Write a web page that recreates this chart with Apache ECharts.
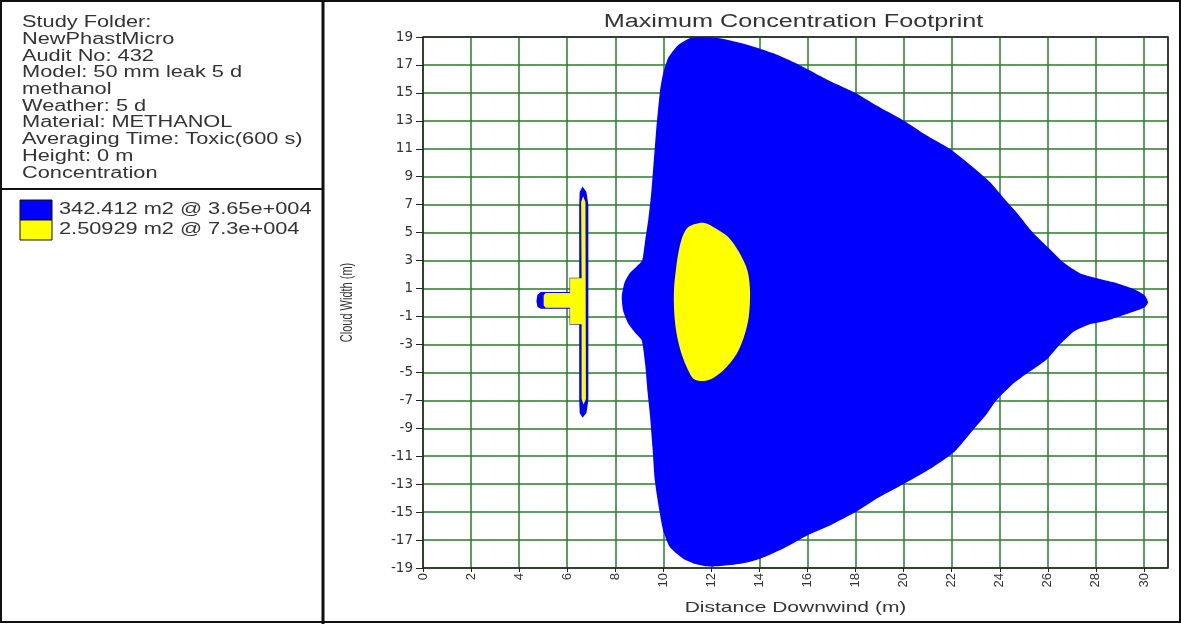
<!DOCTYPE html>
<html>
<head>
<meta charset="utf-8">
<script src="https://cdn.jsdelivr.net/npm/echarts@6/dist/echarts.min.js"></script>
<style>
  html, body { margin: 0; padding: 0; background: #ffffff; }
  #chart { width: 1181px; height: 624px; }
</style>
</head>
<body>
<div id="chart"></div>
<script>
// ---- Study header shown in the side panel ----
const studyInfo = [
  'Study Folder:',
  'NewPhastMicro',
  'Audit No: 432',
  'Model: 50 mm leak 5 d',
  'methanol',
  'Weather: 5 d',
  'Material: METHANOL',
  'Averaging Time: Toxic(600 s)',
  'Height: 0 m',
  'Concentration'
];

// ---- Contour levels (area @ concentration) ----
const contourNames = ['342.412 m2 @ 3.65e+004', '2.50929 m2 @ 7.3e+004'];
const contourColors = ['#0000ff', '#ffff00'];

// ---- Axis ranges (m) ----
const distanceRange = [0, 31];
const widthRange = [-19, 19];
const tickStep = 2;

// ---- Footprint outlines: [distance downwind, cloud width] in m ----
// lower concentration level, main cloud
const lowMainCloud = [
  [11.7, 19.0], [11.15, 18.95], [10.6, 18.4], [10.2, 17.5], [9.98, 16.3], [9.86, 15.1],
  [9.72, 12.7], [9.61, 10.3], [9.5, 7.9], [9.38, 6.0], [9.25, 4.5], [9.12, 3.0],
  [8.9, 2.6], [8.6, 2.1], [8.38, 1.4], [8.27, 0.4], [8.33, -0.6], [8.54, -1.5],
  [8.85, -2.2], [9.1, -2.7], [9.25, -4.5], [9.35, -6.5], [9.44, -8.0], [9.55, -10.4],
  [9.65, -12.8], [9.86, -15.15], [10.0, -16.35], [10.27, -17.5], [10.8, -18.3], [11.3, -18.7],
  [11.8, -18.88], [12.4, -18.85], [13.2, -18.7], [14.0, -18.35], [15.0, -17.6], [16.0, -16.65],
  [17.0, -15.9], [18.0, -15.0], [18.9, -14.0], [19.98, -13.0], [21.2, -11.8], [22.1, -10.7],
  [22.9, -9.1], [23.45, -8.0], [23.86, -7.0], [24.5, -5.9], [25.2, -5.0], [25.94, -4.1],
  [26.5, -3.0], [27.1, -2.05], [27.75, -1.55], [28.44, -1.3], [29.4, -0.75], [30.0, -0.38],
  [30.17, 0.0], [30.03, 0.5], [29.55, 0.98], [28.7, 1.46], [27.88, 1.81], [27.33, 2.1],
  [26.7, 2.8], [26.0, 3.96], [25.3, 5.16], [24.77, 6.3], [24.2, 7.4], [23.6, 8.6],
  [22.8, 9.8], [21.92, 11.0], [20.95, 11.97], [19.98, 13.05], [18.87, 14.1], [18.04, 14.96],
  [16.93, 15.85], [15.6, 17.05], [14.56, 17.85], [13.6, 18.4], [12.4, 18.9]
];
// lower concentration level, near-source jet
const lowSource = [
  [6.64, 8.3], [6.8, 7.9], [6.88, 7.0], [6.88, -7.0], [6.8, -7.9], [6.64, -8.25],
  [6.52, -7.9], [6.5, -7.0], [6.5, -1.6], [6.1, -1.6], [6.1, -0.45], [4.9, -0.45],
  [4.76, -0.3], [4.72, 0.1], [4.76, 0.55], [4.9, 0.75], [6.1, 0.75], [6.1, 1.78],
  [6.5, 1.78], [6.5, 7.0], [6.52, 7.9]
];
// higher concentration level, main cloud core
const highCore = [
  [11.55, 5.7], [11.04, 5.4], [10.79, 4.68], [10.62, 3.49], [10.52, 2.29], [10.45, 1.1],
  [10.44, -0.1], [10.48, -1.29], [10.58, -2.49], [10.76, -3.68], [11.04, -4.87], [11.25, -5.45],
  [11.6, -5.62], [12.0, -5.47], [12.49, -4.87], [13.05, -3.68], [13.35, -2.49], [13.53, -1.29],
  [13.6, -0.1], [13.6, 1.1], [13.5, 2.29], [13.19, 3.49], [12.7, 4.68], [12.08, 5.4], [11.8, 5.65]
];
// higher concentration level, near-source jet
const highSource = [
  [6.66, 7.6], [6.76, 7.2], [6.78, -6.9], [6.68, -7.3], [6.6, -6.9], [6.6, -1.55],
  [6.12, -1.55], [6.12, -0.38], [5.1, -0.38], [5.02, -0.2], [5.02, 0.5], [5.1, 0.68],
  [6.12, 0.68], [6.12, 1.74], [6.6, 1.74], [6.58, 7.2]
];

// ---- Layout ----
const W = 1181, H = 624;
const gridBox = { left: 423, top: 37, right: 13, bottom: 56 };
const plotW = W - gridBox.left - gridBox.right;
const plotH = H - gridBox.top - gridBox.bottom;
const panelX = 323;          // side panel divider
const headerBottom = 189;    // header / legend divider
const textFont = 'Liberation Sans, Arial, sans-serif';
const stretch = 1.36;        // wide lettering of the report

// Filled contour drawn as one polygon through the cartesian scales
function contourSeries(name, points, color, smooth) {
  return {
    type: 'custom',
    name: name,
    coordinateSystem: 'cartesian2d',
    data: points,
    encode: { x: 0, y: 1 },
    silent: true,
    clip: true,
    renderItem: function (params, api) {
      if (params.dataIndex !== 0) return null;
      return {
        type: 'polygon',
        shape: { points: points.map(function (p) { return api.coord(p); }), smooth: smooth },
        style: { fill: color, stroke: null }
      };
    }
  };
}

const gridGreen = '#2b7b2b';
const inkColor = '#333333';

const graphics = [
  // outer frame and panel dividers
  { type: 'rect', z: 20, shape: { x: 1, y: 1, width: W - 2, height: H - 3 },
    style: { fill: null, stroke: '#111', lineWidth: 2 } },
  { type: 'line', z: 20, shape: { x1: panelX, y1: 0, x2: panelX, y2: H },
    style: { stroke: '#111', lineWidth: 3 } },
  { type: 'line', z: 20, shape: { x1: 0, y1: headerBottom, x2: panelX, y2: headerBottom },
    style: { stroke: '#111', lineWidth: 2 } },
  // plot frame
  { type: 'rect', z: 20, shape: { x: gridBox.left, y: gridBox.top, width: plotW, height: plotH },
    style: { fill: null, stroke: '#222', lineWidth: 1.5 } },
  // study header
  { type: 'text', z: 20, x: 22, y: 14.5, scaleX: stretch,
    style: { text: studyInfo.join('\n'), fill: inkColor, fontSize: 16, fontFamily: textFont,
             lineHeight: 16.7, align: 'left', verticalAlign: 'top' } },
  // title
  { type: 'text', z: 20, x: gridBox.left + plotW / 2 - 2, y: 22, scaleX: 1.4,
    style: { text: 'Maximum Concentration Footprint', fill: inkColor, fontSize: 18,
             fontFamily: textFont, align: 'center', verticalAlign: 'middle' } },
  // axis names
  { type: 'text', z: 20, x: gridBox.left + plotW / 2, y: 608, scaleX: 1.4,
    style: { text: 'Distance Downwind (m)', fill: inkColor, fontSize: 15,
             fontFamily: textFont, align: 'center', verticalAlign: 'middle' } },
  { type: 'text', z: 20, x: 347, y: gridBox.top + plotH / 2, rotation: Math.PI / 2, scaleY: 1.5,
    style: { text: 'Cloud Width (m)', fill: inkColor, fontSize: 11,
             fontFamily: textFont, align: 'center', verticalAlign: 'middle' } }
];

// legend swatches and labels
contourNames.forEach(function (name, i) {
  const top = 200 + i * 20;
  graphics.push({ type: 'rect', z: 20, shape: { x: 20, y: top, width: 32, height: 20 },
    style: { fill: contourColors[i], stroke: '#111', lineWidth: 1 } });
  graphics.push({ type: 'text', z: 20, x: 59, y: top + 10, scaleX: stretch,
    style: { text: name, fill: inkColor, fontSize: 16, fontFamily: textFont,
             align: 'left', verticalAlign: 'middle' } });
});

const chart = echarts.init(document.getElementById('chart'), null, { renderer: 'canvas', width: W, height: H });

chart.setOption({
  animation: false,
  backgroundColor: '#ffffff',
  grid: { left: gridBox.left, top: gridBox.top, right: gridBox.right, bottom: gridBox.bottom, containLabel: false },
  xAxis: {
    type: 'value',
    min: distanceRange[0], max: distanceRange[1], interval: tickStep,
    axisLine: { show: false, onZero: false },
    axisTick: { show: true, length: 4, lineStyle: { color: '#222' } },
    axisLabel: { rotate: 90, margin: 5, showMaxLabel: false, color: inkColor,
                 fontFamily: 'Liberation Sans', fontSize: 13 },
    splitLine: { show: true, lineStyle: { color: gridGreen, width: 1.5 } }
  },
  yAxis: {
    type: 'value',
    min: widthRange[0], max: widthRange[1], interval: tickStep,
    axisLine: { show: false, onZero: false },
    axisTick: { show: true, length: 7, lineStyle: { color: '#222' } },
    axisLabel: { margin: 10, color: inkColor, fontFamily: 'DejaVu Sans', fontSize: 13.5 },
    splitLine: { show: true, lineStyle: { color: gridGreen, width: 1.5 } }
  },
  series: [
    contourSeries(contourNames[0], lowMainCloud, contourColors[0], 0.2),
    contourSeries(contourNames[0], lowSource, contourColors[0], 0),
    contourSeries(contourNames[1], highCore, contourColors[1], 0.3),
    contourSeries(contourNames[1], highSource, contourColors[1], 0)
  ],
  graphic: graphics
});
</script>
</body>
</html>
